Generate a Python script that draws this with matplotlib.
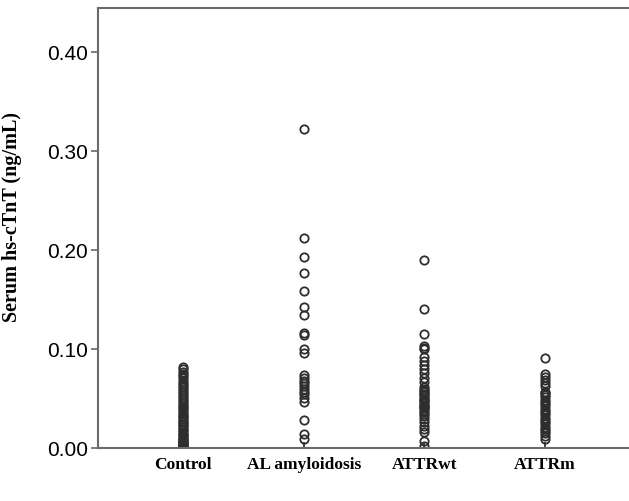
import matplotlib
matplotlib.use('Agg')
import matplotlib.pyplot as plt

# group names and serum hs-cTnT values (ng/mL)
groups = ['Control', 'AL amyloidosis', 'ATTRwt', 'ATTRm']

control = [0.082, 0.080, 0.077, 0.075, 0.073, 0.071, 0.068, 0.066, 0.064, 0.062,
           0.060, 0.058, 0.055, 0.053, 0.051, 0.049, 0.047, 0.045, 0.043, 0.041,
           0.040, 0.038, 0.036, 0.034, 0.032, 0.031, 0.029, 0.027, 0.026, 0.024,
           0.023, 0.021, 0.019, 0.018, 0.016, 0.014, 0.013, 0.012, 0.010, 0.009,
           0.008, 0.007, 0.006, 0.005, 0.005, 0.004, 0.003, 0.003, 0.002, 0.002,
           0.001, 0.001]
al = [0.322, 0.212, 0.193, 0.177, 0.158, 0.142, 0.134, 0.116, 0.114, 0.100,
      0.096, 0.074, 0.071, 0.068, 0.066, 0.063, 0.060, 0.057, 0.054, 0.050,
      0.046, 0.028, 0.014, 0.009]
attrwt = [0.190, 0.140, 0.115, 0.103, 0.101, 0.100, 0.092, 0.088, 0.084, 0.080,
          0.076, 0.071, 0.067, 0.062, 0.060, 0.058, 0.056, 0.054, 0.053, 0.051,
          0.049, 0.048, 0.047, 0.045, 0.043, 0.042, 0.041, 0.040, 0.038, 0.036,
          0.034, 0.032, 0.029, 0.026, 0.022, 0.019, 0.016, 0.007, 0.002]
attrm = [0.091, 0.075, 0.072, 0.069, 0.066, 0.063, 0.057, 0.055, 0.053, 0.051,
         0.048, 0.046, 0.044, 0.042, 0.039, 0.037, 0.035, 0.033, 0.030, 0.028,
         0.026, 0.024, 0.021, 0.019, 0.017, 0.015, 0.012, 0.009]

yticks = [0.0, 0.1, 0.2, 0.3, 0.4]
ytick_labels = ['0.00', '0.10', '0.20', '0.30', '0.40']

fig = plt.figure(figsize=(6.29, 5.02), dpi=100)
ax = fig.add_axes([0.1558, 0.1056, 0.8442, 0.8764])

spine_col = '#6a6a6a'
for i, vals in enumerate([control, al, attrwt, attrm]):
    ax.plot([i + 1] * len(vals), vals, linestyle='none', marker='o',
            markersize=6.0, markerfacecolor='none', markeredgecolor='#2e2e2e',
            markeredgewidth=1.3)

ax.set_xlim(0.296, 4.696)
ax.set_ylim(0, 0.444)
ax.set_yticks(yticks)
ax.set_yticklabels(ytick_labels, fontsize=15, family='Liberation Sans')
ax.set_xticks([1, 2, 3, 4])
ax.set_xticklabels(groups, fontsize=12.5, family='Liberation Serif', fontweight='bold')
ax.set_ylabel('Serum hs-cTnT (ng/mL)', fontsize=14.5, family='Liberation Serif',
              fontweight='bold')
ax.yaxis.set_label_coords(-0.143, 0.527)

ax.spines['right'].set_visible(False)
for s in ['left', 'top', 'bottom']:
    ax.spines[s].set_color(spine_col)
    ax.spines[s].set_linewidth(1.5)
ax.tick_params(axis='y', direction='out', length=5, width=1.2, color=spine_col, pad=2)
ax.tick_params(axis='x', direction='in', length=4, width=1.2, color='#222222', pad=6)

fig.savefig('out.png', dpi=100)
